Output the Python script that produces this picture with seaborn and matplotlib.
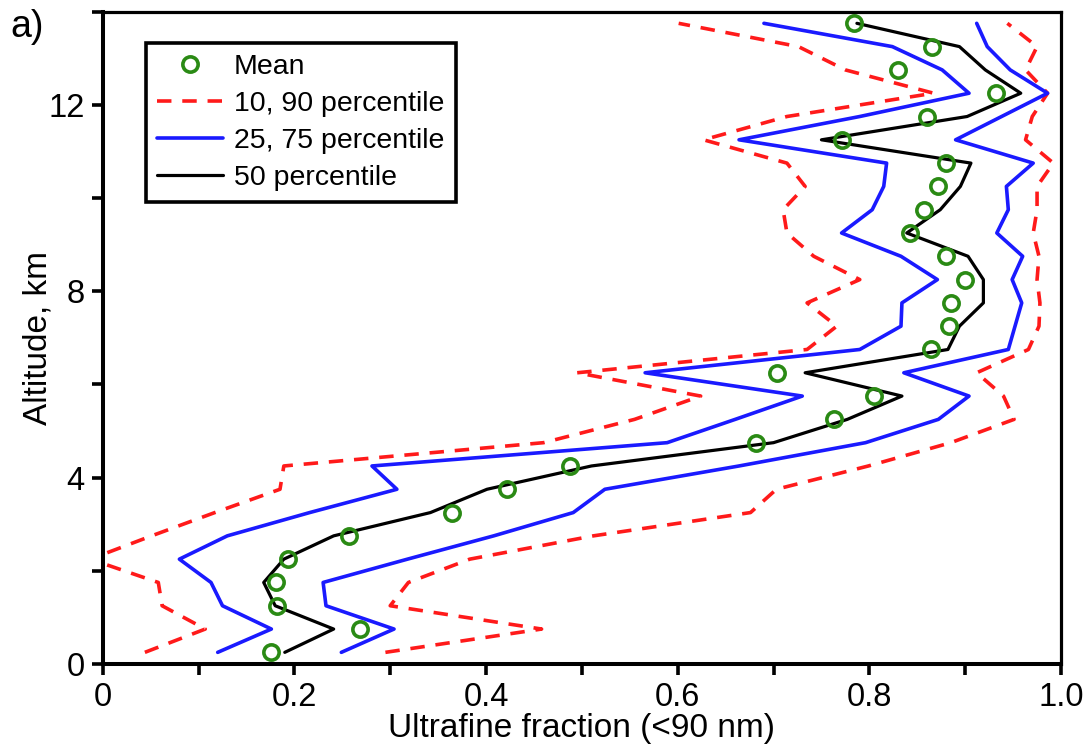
import matplotlib
matplotlib.use("Agg")
import matplotlib.pyplot as plt
import pandas as pd
import seaborn as sns

# Altitude bins (km, bin centres)
altitude_km = [0.25, 0.75, 1.25, 1.75, 2.25, 2.75, 3.25, 3.75, 4.25, 4.75,
               5.25, 5.75, 6.25, 6.75, 7.25, 7.75, 8.25, 8.75, 9.25, 9.75,
               10.25, 10.75, 11.25, 11.75, 12.25, 12.75, 13.25, 13.75]

# Ultrafine fraction (<90 nm) statistics per altitude bin
mean_frac = [0.176, 0.268, 0.182, 0.181, 0.193, 0.257, 0.364, 0.422, 0.488, 0.682,
             0.763, 0.805, 0.704, 0.864, 0.883, 0.885, 0.900, 0.880, 0.842, 0.857,
             0.872, 0.880, 0.771, 0.860, 0.932, 0.830, 0.865, 0.784]
p10 = [0.044, 0.107, 0.062, 0.058, -0.013, 0.051, 0.117, 0.185, 0.189, 0.460,
       0.555, 0.624, 0.495, 0.735, 0.766, 0.735, 0.790, 0.742, 0.714, 0.710,
       0.733, 0.714, 0.627, 0.714, 0.867, 0.775, 0.726, 0.601]
p25 = [0.120, 0.176, 0.125, 0.113, 0.080, 0.130, 0.216, 0.307, 0.281, 0.589,
       0.660, 0.730, 0.566, 0.790, 0.833, 0.834, 0.871, 0.833, 0.771, 0.803,
       0.815, 0.818, 0.664, 0.790, 0.904, 0.876, 0.824, 0.690]
p50 = [0.190, 0.241, 0.180, 0.168, 0.189, 0.241, 0.342, 0.401, 0.510, 0.700,
       0.777, 0.834, 0.733, 0.882, 0.894, 0.919, 0.919, 0.903, 0.839, 0.874,
       0.895, 0.906, 0.750, 0.902, 0.958, 0.921, 0.894, 0.787]
p75 = [0.249, 0.304, 0.233, 0.230, 0.318, 0.408, 0.491, 0.524, 0.664, 0.796,
       0.872, 0.904, 0.836, 0.945, 0.952, 0.959, 0.949, 0.960, 0.933, 0.945,
       0.943, 0.971, 0.890, 0.938, 0.986, 0.947, 0.923, 0.912]
p90 = [0.295, 0.458, 0.300, 0.319, 0.383, 0.512, 0.676, 0.703, 0.799, 0.885,
       0.951, 0.940, 0.912, 0.966, 0.977, 0.978, 0.975, 0.977, 0.971, 0.975,
       0.975, 0.992, 0.963, 0.970, 0.986, 0.963, 0.975, 0.944]

x_tick_labels = ["0", "0.2", "0.4", "0.6", "0.8", "1.0"]
y_tick_labels = ["0", "4", "8", "12"]

df = pd.DataFrame({"alt": altitude_km, "mean": mean_frac, "p10": p10,
                   "p25": p25, "p50": p50, "p75": p75, "p90": p90})

sns.set_theme(style="ticks")
plt.rcParams["font.family"] = ["Liberation Sans", "DejaVu Sans"]
plt.rcParams["text.color"] = "black"
plt.rcParams["axes.labelcolor"] = "black"

RED = "#ff1a1a"
BLUE = "#1a1aff"
GREEN = "#2a8a14"

fig = plt.figure(figsize=(10.88, 7.53), dpi=100)
ax = fig.add_axes([0.0944, 0.1182, 0.8808, 0.8663])

dash = (0, (4.0, 3.0))
common = dict(sort=False, estimator=None, ax=ax)

sns.lineplot(data=df, x="p10", y="alt", color=RED, lw=2.6, linestyle=dash,
             label="10, 90 percentile", **common)
sns.lineplot(data=df, x="p90", y="alt", color=RED, lw=2.6, linestyle=dash,
             label="_p90", **common)
sns.lineplot(data=df, x="p25", y="alt", color=BLUE, lw=2.6,
             label="25, 75 percentile", **common)
sns.lineplot(data=df, x="p75", y="alt", color=BLUE, lw=2.6,
             label="_p75", **common)
sns.lineplot(data=df, x="p50", y="alt", color="black", lw=2.3,
             label="50 percentile", **common)
sns.lineplot(data=df, x="mean", y="alt", color=GREEN, linestyle="none",
             marker="o", ms=11, mfc="none", mec=GREEN, mew=2.6,
             label="Mean", **common)

ax.set_xlim(0, 1.0)
ax.set_ylim(0, 14)

ax.set_xticks([i / 10 for i in range(11)])
ax.set_xticklabels([x_tick_labels[i // 2] if i % 2 == 0 else "" for i in range(11)])
ax.set_yticks(list(range(0, 15, 2)))
ax.set_yticklabels([y_tick_labels[i // 2] if i % 2 == 0 else "" for i in range(8)])

ax.tick_params(axis="both", direction="out", length=8, width=2.6,
               labelsize=23.5, pad=5, colors="black")
for side in ["left", "bottom"]:
    ax.spines[side].set_linewidth(2.9)
for side in ["top", "right"]:
    ax.spines[side].set_linewidth(2.3)
for sp in ax.spines.values():
    sp.set_color("black")
    sp.set_visible(True)

ax.set_xlabel("Ultrafine fraction (<90 nm)", fontsize=24, labelpad=0)
ax.set_ylabel("Altitude, km", fontsize=24, labelpad=-4)

handles, labels = ax.get_legend_handles_labels()
order = ["Mean", "10, 90 percentile", "25, 75 percentile", "50 percentile"]
hmap = dict(zip(labels, handles))
leg = ax.legend([hmap[k] for k in order], order, loc="upper left",
                bbox_to_anchor=(0.045, 0.952), borderaxespad=0, fontsize=20.5,
                frameon=True, fancybox=False, handlelength=2.3,
                handletextpad=0.4, labelspacing=0.38, borderpad=0.4,
                edgecolor="black", framealpha=1, labelcolor="black")
leg.get_frame().set_linewidth(2.6)

fig.text(0.0097, 1 - 37 / 753, "a)", fontsize=27, va="baseline", ha="left")

fig.savefig("out.png", dpi=100, facecolor="white")
